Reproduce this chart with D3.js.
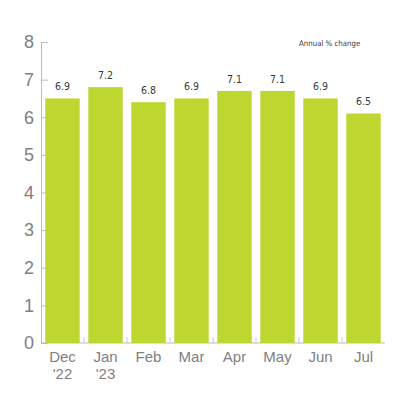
<!DOCTYPE html>
<html lang="en">
<head>
<meta charset="UTF-8">
<title>Annual % change</title>
<script src="https://d3js.org/d3.v7.min.js"></script>
<style>
  body { margin: 0; background: #fff; }
  .tick text { font-family: "Liberation Sans", Arial, sans-serif; fill: #808080; }
</style>
</head>
<body>
<div id="chart"></div>
<script>
// months on the x axis, two-line labels
const months = ["Dec", "Jan", "Feb", "Mar", "Apr", "May", "Jun", "Jul"];
const years = ["'22", "'23", "", "", "", "", "", ""];
// bar heights as drawn in the picture
const barValues = [6.5, 6.8, 6.4, 6.5, 6.7, 6.7, 6.5, 6.1];
// printed labels above the bars
const labels = ["6.9", "7.2", "6.8", "6.9", "7.1", "7.1", "6.9", "6.5"];
const yTicks = [0, 1, 2, 3, 4, 5, 6, 7, 8];

const width = 400, height = 400;
const margin = { top: 42, right: 15, bottom: 57, left: 41 };

const svg = d3.select("#chart").append("svg")
    .attr("width", width)
    .attr("height", height);

const x = d3.scaleBand()
    .domain(months)
    .range([margin.left, width - margin.right])
    .paddingInner(0.2)
    .paddingOuter(0.1);

const y = d3.scaleLinear()
    .domain([0, 8])
    .range([height - margin.bottom, margin.top]);

// y axis: ticks pointing into the plot
const yAxis = svg.append("g")
    .attr("transform", `translate(${margin.left},0)`)
    .call(d3.axisLeft(y).tickValues(yTicks).tickSizeInner(-7).tickSizeOuter(0).tickPadding(7));
yAxis.select(".domain").attr("stroke", "#bbb");
yAxis.selectAll(".tick line").attr("stroke", "#bbb");
yAxis.selectAll(".tick text").attr("font-size", 18).attr("dx", "0");

// x axis baseline + separator ticks
const base = y(0);
svg.append("line")
    .attr("x1", margin.left).attr("x2", width - margin.right)
    .attr("y1", base).attr("y2", base)
    .attr("stroke", "#bbb");

const step = x.step();
const bounds = months.slice(1).map(m => x(m) - step * x.paddingInner() / 2);
svg.selectAll(".sep")
    .data(bounds)
    .join("line")
    .attr("x1", d => d).attr("x2", d => d)
    .attr("y1", base).attr("y2", base - 6)
    .attr("stroke", "#ccc");

// bars
svg.selectAll(".bar")
    .data(barValues)
    .join("rect")
    .attr("x", (d, i) => x(months[i]))
    .attr("width", x.bandwidth())
    .attr("y", d => y(d))
    .attr("height", d => base - y(d))
    .attr("fill", "#bdd630");

// value labels
svg.selectAll(".val")
    .data(labels)
    .join("text")
    .attr("x", (d, i) => x(months[i]) + x.bandwidth() / 2)
    .attr("y", (d, i) => y(barValues[i]) - 8)
    .attr("text-anchor", "middle")
    .attr("font-family", "'DejaVu Sans Condensed', 'DejaVu Sans', sans-serif")
    .attr("font-size", 10.5)
    .attr("fill", "#3a3a3a")
    .text(d => d);

// month labels
const xl = svg.selectAll(".xl")
    .data(months)
    .join("text")
    .attr("x", d => x(d) + x.bandwidth() / 2)
    .attr("y", base + 19)
    .attr("text-anchor", "middle")
    .attr("font-family", "'Liberation Sans', Arial, sans-serif")
    .attr("font-size", 15)
    .attr("fill", "#808080");
xl.append("tspan").text(d => d);
xl.append("tspan")
    .attr("x", d => x(d) + x.bandwidth() / 2)
    .attr("dy", 17)
    .text((d, i) => years[i]);

// series note
svg.append("text")
    .attr("x", 299)
    .attr("y", 46)
    .attr("font-family", "'DejaVu Sans Condensed', 'DejaVu Sans', sans-serif")
    .attr("font-size", 7.8)
    .attr("fill", "#3a3a3a")
    .text("Annual % change");
</script>
</body>
</html>
